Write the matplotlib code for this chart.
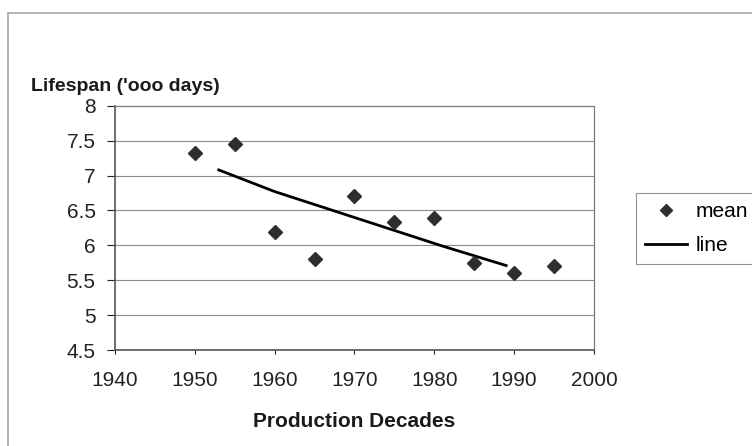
import matplotlib
matplotlib.use("Agg")
import matplotlib.pyplot as plt
from matplotlib.lines import Line2D

plt.rcParams['font.family'] = ['Liberation Sans', 'DejaVu Sans']

# production decade means
years = [1950, 1955, 1960, 1965, 1970, 1975, 1980, 1985, 1990, 1995]
mean_life = [7.32, 7.45, 6.19, 5.81, 6.71, 6.33, 6.39, 5.75, 5.60, 5.70]

# smoothed line
line_years = [1953, 1960, 1967, 1974, 1981, 1989]
line_life = [7.08, 6.77, 6.51, 6.25, 5.99, 5.71]

xticks = [1940, 1950, 1960, 1970, 1980, 1990, 2000]
yticks = [4.5, 5, 5.5, 6, 6.5, 7, 7.5, 8]

fig = plt.figure(figsize=(7.52, 4.46), dpi=100)
ax = fig.add_axes([0.1529, 0.2152, 0.637, 0.5478])

for y in yticks[1:-1]:
    ax.axhline(y, color='#8c8c8c', lw=0.8, zorder=1)

ax.plot(years, mean_life, linestyle='none', marker='D', markersize=7.3,
        color='#2e2e2e', label='mean', zorder=3)
ax.plot(line_years, line_life, color='black', lw=2.0, label='line', zorder=2)

ax.set_xlim(1940, 2000)
ax.set_ylim(4.5, 8)
ax.set_xticks(xticks)
ax.set_yticks(yticks)
ax.set_xticklabels([str(x) for x in xticks])
ax.set_yticklabels(['4.5', '5', '5.5', '6', '6.5', '7', '7.5', '8'])
ax.tick_params(labelsize=15, colors='#222222', width=0.8, direction='out')
ax.tick_params(axis='y', length=6, pad=8)
ax.tick_params(axis='x', length=3, pad=12)

for side in ['top', 'right']:
    ax.spines[side].set_color('#7a7a7a')
    ax.spines[side].set_linestyle((0, (1, 1)))
    ax.spines[side].set_linewidth(0.9)
for side in ['left', 'bottom']:
    ax.spines[side].set_color('#555555')
    ax.spines[side].set_linewidth(1.2)

ax.set_xlabel('Production Decades', fontsize=15, fontweight='bold',
              color='#1a1a1a', labelpad=16)
fig.text(0.041, 0.806, "Lifespan ('ooo days)", fontsize=14,
         fontweight='bold', color='#1a1a1a', va='center', ha='left')

leg = ax.legend(loc='upper left', bbox_to_anchor=(636 / 752, 1 - 193 / 446),
                bbox_transform=fig.transFigure, fontsize=15, frameon=True,
                fancybox=False, edgecolor='#777777', handlelength=2.0,
                handletextpad=0.4, borderpad=0.45, labelspacing=0.7,
                borderaxespad=0, markerscale=0.85)
leg.get_frame().set_linewidth(0.8)

# outer chart frame
fig.add_artist(Line2D([8 / 752, 1], [1 - 13 / 446, 1 - 13 / 446],
                      transform=fig.transFigure, color='#a8a8a8', lw=1.2))
fig.add_artist(Line2D([8 / 752, 8 / 752], [0, 1 - 13 / 446],
                      transform=fig.transFigure, color='#a8a8a8', lw=1.2))

fig.savefig('out.png', dpi=100)
